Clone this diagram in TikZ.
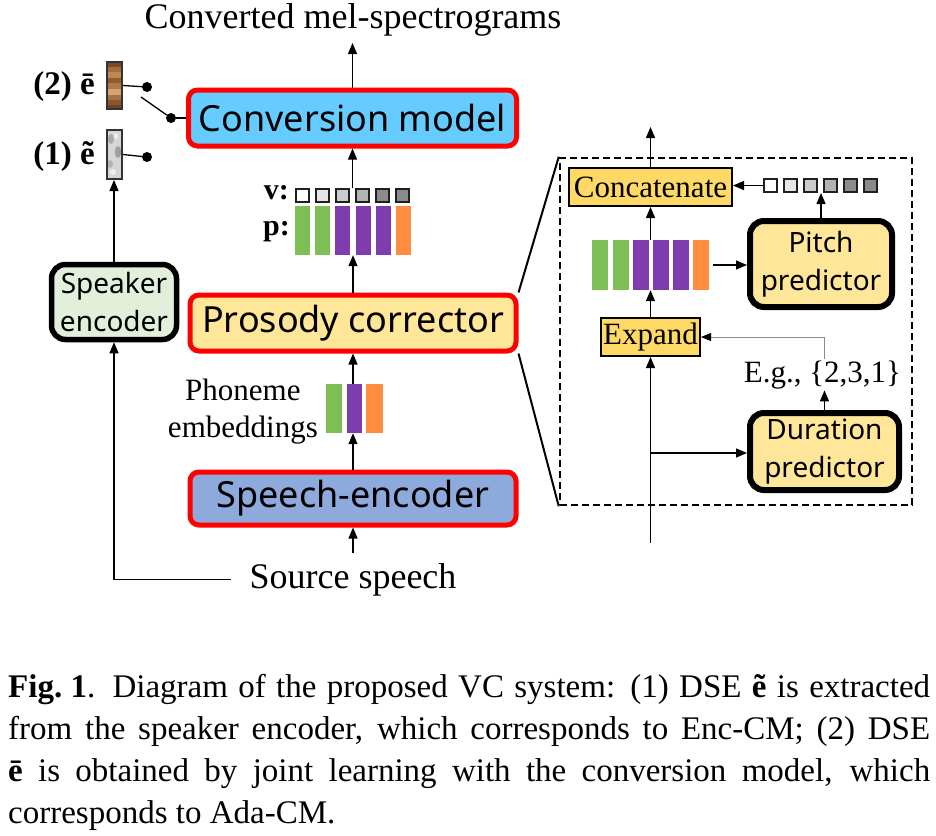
\documentclass[tikz,border=0pt]{standalone}
\usepackage{fontspec}
\setmainfont{Liberation Serif}
\newfontfamily\boxfont{Noto Sans}
\usetikzlibrary{arrows.meta,calc}
\definecolor{convblue}{HTML}{66CCFF}
\definecolor{prosyellow}{HTML}{FFE699}
\definecolor{speechblue}{HTML}{8EA9DB}
\definecolor{spkgreen}{HTML}{E2EFDA}
\definecolor{concyellow}{HTML}{FFD966}
\definecolor{bargreen}{HTML}{7DBE55}
\definecolor{barpurple}{HTML}{7F3CAE}
\definecolor{barorange}{HTML}{FF8C3F}
\definecolor{sqa}{HTML}{FFFFFF}
\definecolor{sqb}{HTML}{E6E6E6}
\definecolor{sqc}{HTML}{CCCCCC}
\definecolor{sqd}{HTML}{B3B3B3}
\definecolor{sqe}{HTML}{8C8C8C}
\definecolor{sqf}{HTML}{8A8A8A}
\begin{document}
\begin{tikzpicture}[x=1pt,y=-1pt,
  redbox/.style={draw=red, line width=5pt, rounded corners=9pt, inner sep=0pt,
     font=\boxfont\fontsize{36}{40}\selectfont},
  blackbox/.style={draw=black, line width=5.5pt, rounded corners=14pt, inner sep=0pt, align=center,
     font=\boxfont\fontsize{28}{38}\selectfont},
  flatbox/.style={draw=black, line width=2pt, fill=concyellow, inner sep=0pt,
     font=\fontsize{31}{36}\selectfont},
  arr/.style={-{Triangle[length=11pt,width=9pt]}, line width=1.3pt},
  garr/.style={-{Triangle[length=10pt,width=8pt,color=black]}, line width=0.9pt, draw=black!45},
  thin/.style={line width=1.3pt},
  bar/.style={inner sep=0pt, minimum width=15pt, minimum height=49pt},
  gbar/.style={bar, fill=bargreen},
  pbar/.style={bar, fill=barpurple},
  obar/.style={bar, fill=barorange},
  vsq/.style={draw=black!88, line width=2pt, minimum size=13pt, inner sep=0pt},
  dotnode/.style={circle, fill=black, minimum size=10pt, inner sep=0pt},
  serif36/.style={font=\fontsize{36}{40}\selectfont},
  serif31/.style={font=\fontsize{31}{37}\selectfont},
  elab/.style={anchor=east, inner sep=0pt, font=\bfseries\fontsize{33}{36}\selectfont},
  capline/.style={anchor=base west, inner sep=0pt, font=\fontsize{33}{42}\selectfont}
]
\useasboundingbox[fill=white] (0,0) rectangle (936,835);

% ---------- main column ----------
\node[anchor=base, serif36, inner sep=0pt] (out) at (353,28) {Converted mel-spectrograms};
\coordinate (outtip) at (352.5,43);
\node[redbox, fill=convblue, minimum width=328pt, minimum height=56pt] (conv) at (352.5,118) {Conversion model};
\draw[arr] (conv.north) -- (outtip);

% v squares
\foreach \i/\c in {1/sqa,2/sqb,3/sqc,4/sqd,5/sqe,6/sqf}
  \node[vsq, fill=\c] (v\i) at ({282.5+20*\i},195) {};
\node[anchor=east, inner sep=0pt, font=\bfseries\fontsize{30}{34}\selectfont] (vlab) at (289,193) {v:};
% p bars
\node[gbar] (p1) at (302.5,230.5) {};
\node[gbar] (p2) at (322.5,230.5) {};
\node[pbar] (p3) at (342.5,230.5) {};
\node[pbar] (p4) at (363,230.5) {};
\node[pbar] (p5) at (383.5,230.5) {};
\node[obar] (p6) at (403,230.5) {};
\node[anchor=east, inner sep=0pt, font=\bfseries\fontsize{30}{34}\selectfont] (plab) at (290,232) {p:};
\draw[arr] (v3.north -| conv.south) -- (conv.south);

\node[redbox, fill=prosyellow, minimum width=326pt, minimum height=56pt] (pros) at (353,323) {Prosody corrector};
\draw[arr] (pros.north) -- (pros.north |- p3.south);

% phoneme embeddings
\node[gbar, minimum width=16pt] (ph1) at (334,408.5) {};
\node[pbar] (ph2) at (354.5,408.5) {};
\node[obar, minimum width=17pt] (ph3) at (374.5,408.5) {};
\node[anchor=east, align=center, serif31, inner sep=0pt] (phlab) at (318,412) {Phoneme\\embeddings};
\draw[arr] (pros.south |- ph2.north) -- (pros.south);

\node[redbox, fill=speechblue, minimum width=326pt, minimum height=53pt] (speech) at (353,498.5) {Speech-encoder};
\draw[arr] (speech.north) -- (speech.north |- ph2.south);

\node[anchor=base, serif36, inner ysep=10pt, inner xsep=18pt] (src) at (353,588) {Source speech};
\draw[arr] (src.north) -- (speech.south);

% ---------- speaker encoder column ----------
\node[blackbox, fill=spkgreen, minimum width=125pt, minimum height=75pt] (spk) at (114,302) {Speaker\\encoder};
\draw[arr] (src.west) -- (src.west -| spk.south) -- (spk.south);

% textured embedding bars
\begin{scope}
  \clip (107,62) rectangle (122,109);
  \fill[fill={rgb,255:red,122;green,74;blue,38}]   (107,62) rectangle (122,67);
  \fill[fill={rgb,255:red,165;green,109;blue,63}]  (107,67) rectangle (122,72);
  \fill[fill={rgb,255:red,192;green,135;blue,85}]  (107,72) rectangle (122,78);
  \fill[fill={rgb,255:red,142;green,91;blue,51}]   (107,78) rectangle (122,83);
  \fill[fill={rgb,255:red,176;green,122;blue,72}]  (107,83) rectangle (122,89);
  \fill[fill={rgb,255:red,212;green,165;blue,112}] (107,89) rectangle (122,95);
  \fill[fill={rgb,255:red,168;green,115;blue,66}]  (107,95) rectangle (122,100);
  \fill[fill={rgb,255:red,138;green,86;blue,48}]   (107,100) rectangle (122,105);
  \fill[fill={rgb,255:red,111;green,66;blue,36}]   (107,105) rectangle (122,109);
\end{scope}
\begin{scope}
  \clip (107,130) rectangle (122,179);
  \fill[fill={rgb,255:red,214;green,214;blue,214}] (107,130) rectangle (122,179);
  \fill[fill={rgb,255:red,170;green,170;blue,170}] (111,139) ellipse [x radius=3pt, y radius=5pt];
  \fill[fill={rgb,255:red,160;green,160;blue,160}] (118,152) ellipse [x radius=3pt, y radius=6pt];
  \fill[fill={rgb,255:red,180;green,180;blue,180}] (110,164) ellipse [x radius=3pt, y radius=4pt];
  \fill[fill={rgb,255:red,240;green,240;blue,240}] (116,136) ellipse [x radius=2pt, y radius=3pt];
  \fill[fill={rgb,255:red,238;green,238;blue,238}] (113,172) ellipse [x radius=3pt, y radius=3pt];
\end{scope}
\node[draw=black!80, line width=2pt, minimum width=15pt, minimum height=47pt, inner sep=0pt] (e2) at (114.5,85.5) {};
\node[draw=black!80, line width=2pt, minimum width=15pt, minimum height=49pt, inner sep=0pt] (e1) at (114.5,154.5) {};
\draw[arr] (spk.north) -- (spk.north |- e1.south);

\node[elab] (lab2) at (95,87) {(2) ē};
\node[elab] (lab1) at (95,157) {(1) ẽ};

\node[dotnode] (d2) at (147,87) {};
\node[dotnode] (d1) at (147,157) {};
\node[dotnode] (ds) at (171,118) {};
\coordinate (sw) at (141,97);
\draw[thin] (e2.east) -- (d2);
\draw[thin] (e1.east) -- (d1);
\draw[thin] (sw) -- (ds);
\draw[thin] (ds) -- (conv.west);

% ---------- detail box ----------
\node[draw, line width=2.5pt, dash pattern=on 7pt off 4pt, minimum width=352pt, minimum height=347pt, inner sep=0pt] (detail) at (736,331.5) {};
\draw[line width=2pt] (pros.north east) -- (detail.north west);
\draw[line width=2pt] (pros.south east) -- (detail.south west);

\node[flatbox, minimum width=163pt, minimum height=38pt] (conc) at (650.5,187) {Concatenate};
\coordinate (ctop) at (650.5,127);
\draw[arr] (conc.north) -- (ctop);

\foreach \i/\c in {1/sqa,2/sqb,3/sqc,4/sqd,5/sqe,6/sqf}
  \node[vsq, fill=\c] (q\i) at ({750.5+20*\i},185.5) {};
\draw[arr] (q1.west) -- (q1.west -| conc.east);

\node[blackbox, line width=6pt, fill=prosyellow, minimum width=142pt, minimum height=86pt] (pitch) at (821,264) {Pitch\\predictor};
\draw[arr] (pitch.north) -- (pitch.north |- q3.south);

\node[gbar, minimum width=16pt, minimum height=50pt] (r1) at (600,265) {};
\node[gbar, minimum width=16pt, minimum height=50pt] (r2) at (620.5,265) {};
\node[pbar, minimum width=16pt, minimum height=50pt] (r3) at (640.5,265) {};
\node[pbar, minimum width=16pt, minimum height=50pt] (r4) at (660.5,265) {};
\node[pbar, minimum width=16pt, minimum height=50pt] (r5) at (681,265) {};
\node[obar, minimum width=16pt, minimum height=50pt] (r6) at (701,265) {};
\draw[arr] ([xshift=4pt]r6.east) -- (r6.east -| pitch.west);
\draw[arr] (conc.south |- r3.north) -- (conc.south);

\node[flatbox, minimum width=99pt, minimum height=38pt] (exp) at (650.5,337) {Expand};
\draw[arr] (exp.north) -- (exp.north |- r3.south);

\node[blackbox, line width=6pt, fill=prosyellow, minimum width=149pt, minimum height=77pt] (dur) at (824.5,451.5) {Duration\\predictor};
\node[anchor=base, serif31, inner sep=1.5pt] (eg) at (822.5,382) {E.g., \{2,3,1\}};
\draw[arr] (dur.north) -- (dur.north |- eg.south);
\draw[garr] (eg.north -| dur.north) -- (dur.north |- exp.east) -- (exp.east);

\coordinate (rbot) at (650.5,543);
\coordinate (br) at (650.5,453);
\draw[arr] (rbot) -- (exp.south);
\draw[arr] (br) -- (br -| dur.west);

% ---------- caption ----------
\node[capline] (c1) at (8,697) {\makebox[922pt][s]{\textbf{Fig.\kern0.25em1}. Diagram of the proposed VC system: (1) DSE \textbf{ẽ} is extracted}};
\node[capline] (c2) at (8,739) {\makebox[922pt][s]{from the speaker encoder, which corresponds to Enc-CM; (2) DSE}};
\node[capline] (c3) at (8,781) {\makebox[922pt][s]{\textbf{ē} is obtained by joint learning with the conversion model, which}};
\node[capline] (c4) at (8,823) {corresponds to Ada-CM.};
\end{tikzpicture}
\end{document}
